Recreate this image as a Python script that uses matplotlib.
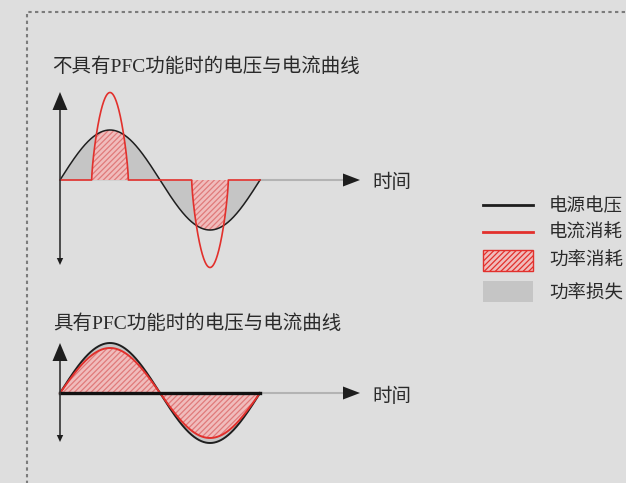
import numpy as np
import matplotlib
matplotlib.use('Agg')
import matplotlib.pyplot as plt
from matplotlib.patches import Polygon, Rectangle

plt.rcParams['font.family'] = ['Noto Sans CJK SC', 'DejaVu Sans']
plt.rcParams['hatch.linewidth'] = 0.9

# ---------------- data ----------------
title_no_pfc = '不具有PFC功能时的电压与电流曲线'
title_pfc = '具有PFC功能时的电压与电流曲线'
time_label = '时间'
legend_labels = ['电源电压', '电流消耗', '功率消耗', '功率损失']

voltage_amplitude = 1.0          # supply voltage peak (relative)
current_peak_no_pfc = 1.75       # current pulse peak without PFC (relative)
conduction_halfwidth_deg = 33.0  # half width of each current pulse (degrees)
pulse_centers_deg = [90, 270]    # pulse centres within one cycle
current_peak_pfc = 0.90          # sinusoidal current peak with PFC (relative)
cycle_deg = [0, 360]

# ---------------- styles ----------------
BG = '#dedede'
RED = '#e2302c'
GRAY_FILL = '#c5c5c5'
HATCH_FACE = '#f0bcbc'
HATCH_EDGE = '#e07a7a'
DARK = '#1e1e1e'
TXT = '#2a2a2a'

W, H = 626, 483
fig = plt.figure(figsize=(W / 100, H / 100), dpi=100, facecolor=BG)

# overlay axes in pixel coordinates
ov = fig.add_axes([0, 0, 1, 1], facecolor='none', zorder=5)
ov.set_xlim(0, W)
ov.set_ylim(H, 0)
ov.axis('off')

PX_DEG = 1.8     # degrees per pixel
PX_UNIT = 50.0   # pixels per amplitude unit
X0_PX = 60       # pixel x of phase 0


def chart_axes(baseline_px, top_px, bottom_px, left_px=40, right_px=420):
    ax = fig.add_axes([left_px / W, 1 - bottom_px / H,
                       (right_px - left_px) / W, (bottom_px - top_px) / H])
    ax.set_xlim((left_px - X0_PX) * PX_DEG, (right_px - X0_PX) * PX_DEG)
    ax.set_ylim((baseline_px - bottom_px) / PX_UNIT, (baseline_px - top_px) / PX_UNIT)
    ax.axis('off')
    ax.patch.set_alpha(0)
    return ax


def draw_axes_arrows(ax, y_top, y_bottom):
    # vertical axis
    hw_top = 7.5 * PX_DEG
    hl_top = 18 / PX_UNIT
    hw_bot = 3.2 * PX_DEG
    hl_bot = 7 / PX_UNIT
    ax.plot([0, 0], [y_bottom + hl_bot * 0.5, y_top - hl_top * 0.5], color='#333333', lw=1.2, zorder=6)
    ax.add_patch(Polygon([[0, y_top], [-hw_top, y_top - hl_top], [hw_top, y_top - hl_top]],
                         closed=True, color=DARK, lw=0, zorder=7))
    ax.add_patch(Polygon([[0, y_bottom], [-hw_bot, y_bottom + hl_bot], [hw_bot, y_bottom + hl_bot]],
                         closed=True, color=DARK, lw=0, zorder=7))
    # time axis continuation + arrow head
    x_end = cycle_deg[1]
    x_tip = x_end + 100 * PX_DEG
    head_len = 17 * PX_DEG
    head_hw = 6.5 / PX_UNIT
    ax.plot([x_end, x_tip - head_len * 0.5], [0, 0], color='#b3b3b3', lw=1.5, zorder=3)
    ax.add_patch(Polygon([[x_tip, 0], [x_tip - head_len, head_hw], [x_tip - head_len, -head_hw]],
                         closed=True, color=DARK, lw=0, zorder=7))
    return x_tip


theta = np.linspace(cycle_deg[0], cycle_deg[1], 1441)
rad = np.deg2rad(theta)
voltage = voltage_amplitude * np.sin(rad)

# ---------- chart 1 : without PFC ----------
ax1 = chart_axes(baseline_px=180, top_px=85, bottom_px=275)
current1 = np.zeros_like(theta)
for c in pulse_centers_deg:
    sgn = np.sign(np.sin(np.deg2rad(c)))
    m = np.abs(theta - c) <= conduction_halfwidth_deg
    phase = (theta[m] - c) / conduction_halfwidth_deg * (np.pi / 2)
    current1[m] = sgn * current_peak_no_pfc * np.cos(phase).clip(0) ** 0.7
power1 = np.sign(voltage) * np.minimum(np.abs(current1), np.abs(voltage))

ax1.fill_between(theta, 0, voltage, color=GRAY_FILL, lw=0, zorder=1)
ax1.fill_between(theta, 0, power1, where=np.abs(current1) > 0, facecolor=HATCH_FACE,
                 edgecolor=HATCH_EDGE, hatch='//////', lw=0, zorder=2)
ax1.plot(theta, voltage, color=DARK, lw=1.1, zorder=4)
ax1.plot(theta, current1, color=RED, lw=1.2, zorder=5)
draw_axes_arrows(ax1, y_top=1.76, y_bottom=-1.70)

# ---------- chart 2 : with PFC ----------
ax2 = chart_axes(baseline_px=393, top_px=335, bottom_px=450)
current2 = current_peak_pfc * np.sin(rad)
ax2.fill_between(theta, 0, voltage, color=GRAY_FILL, lw=0, zorder=1)
ax2.fill_between(theta, 0, current2, facecolor=HATCH_FACE, edgecolor=HATCH_EDGE,
                 hatch='//////', lw=0, zorder=2)
ax2.plot(theta, voltage, color=DARK, lw=1.4, zorder=4)
ax2.plot(theta, current2, color=RED, lw=1.4, zorder=5)
ax2.plot(cycle_deg, [0, 0], color='#111111', lw=2.4, zorder=6)
draw_axes_arrows(ax2, y_top=1.0, y_bottom=-0.98)

# ---------------- texts ----------------
FS = 14
title_font = ['Liberation Serif', 'Noto Sans CJK SC']
ov.text(52, 67, title_no_pfc, fontsize=FS, family=title_font, color=TXT, va='center', ha='left')
ov.text(53, 324, title_pfc, fontsize=FS, family=title_font, color=TXT, va='center', ha='left')
ov.text(372, 183, time_label, fontsize=FS, color=TXT, va='center', ha='left')
ov.text(372, 396, time_label, fontsize=FS, color=TXT, va='center', ha='left')

# ---------------- legend ----------------
lx0, lx1 = 483, 533
ov.plot([lx0, lx1], [205, 205], color=DARK, lw=2.0)
ov.plot([lx0, lx1], [232, 232], color=RED, lw=2.0)
ov.add_patch(Rectangle((lx0, 250), lx1 - lx0, 21, facecolor=HATCH_FACE, edgecolor=RED,
                       hatch='//////', lw=1.0))
ov.add_patch(Rectangle((lx0, 281), lx1 - lx0, 21, facecolor=GRAY_FILL, edgecolor='none'))
for lab, y in zip(legend_labels, [206, 233, 261, 293]):
    ov.text(549, y, lab, fontsize=13.3, color=TXT, va='center', ha='left')

# ---------------- dashed frame ----------------
ov.plot([26.5, 26.5, W + 5], [H + 5, 12, 12], color='#7c7c7c', lw=1.5,
        linestyle=(0, (1.6, 1.6)), solid_capstyle='butt')

fig.savefig('out.png', dpi=100, facecolor=BG)
